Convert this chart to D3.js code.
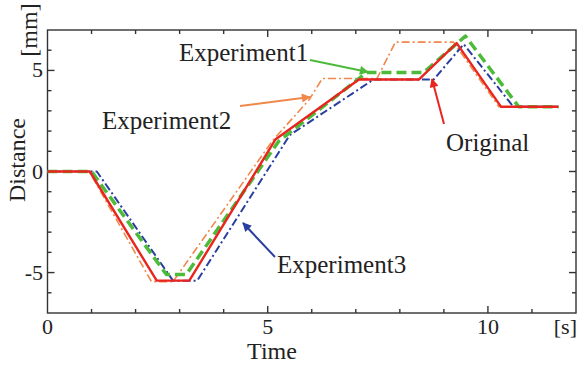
<!DOCTYPE html>
<html>
<head>
<meta charset="utf-8">
<script src="https://cdn.jsdelivr.net/npm/d3@7"></script>
<style>
  body { margin: 0; background: #fff; }
  text { font-family: "Liberation Serif", "Times New Roman", serif; fill: #222; }
</style>
</head>
<body>
<div id="chart"></div>
<script>
// time [s] / distance [mm]
const originalT = [0, 0.96, 2.48, 3.22, 5.18, 7.07, 8.43, 9.29, 10.3, 11.6];
const originalD = [0, 0, -5.4, -5.4, 1.6, 4.55, 4.55, 6.35, 3.2, 3.2];

const exp1T = [0, 1.0, 2.7, 3.15, 5.25, 7.25, 8.54, 9.49, 10.7, 11.6];
const exp1D = [0, 0, -5.1, -5.1, 1.5, 4.9, 4.9, 6.7, 3.2, 3.2];

const exp2T = [0, 0.95, 2.36, 2.85, 5.1, 5.94, 6.24, 7.48, 7.9, 9.22, 10.25, 11.6];
const exp2D = [0, 0, -5.45, -5.45, 1.5, 3.55, 4.6, 4.6, 6.4, 6.4, 3.2, 3.2];

const exp3T = [0, 1.12, 2.85, 3.4, 5.5, 7.4, 8.77, 9.45, 10.58, 11.6];
const exp3D = [0, 0, -5.4, -5.4, 1.8, 4.55, 4.55, 6.3, 3.2, 3.2];

const xTicks = [0, 5, 10];
const yTicks = [-5, 0, 5];

const W = 577, H = 367;
const x = d3.scaleLinear().domain([0, 12]).range([47.5, 576]);
const y = d3.scaleLinear().domain([-7, 7]).range([313, 30]);

const svg = d3.select('#chart').append('svg')
  .attr('width', W)
  .attr('height', H);

const defs = svg.append('defs');
function marker(id, color) {
  defs.append('marker')
    .attr('id', id)
    .attr('viewBox', '0 0 10 10')
    .attr('refX', 9).attr('refY', 5)
    .attr('markerWidth', 11).attr('markerHeight', 9)
    .attr('markerUnits', 'userSpaceOnUse')
    .attr('orient', 'auto')
    .append('path')
      .attr('d', 'M0,0 L10,5 L0,10 Z')
      .attr('fill', color);
}
marker('ah-green', '#4dbb3a');
marker('ah-orange', '#f0884a');
marker('ah-red', '#e8251f');
marker('ah-blue', '#2a3ea0');

// frame with inward ticks on all four sides
const x0 = x.range()[0], x1 = x.range()[1];
const y0 = y.range()[1], y1 = y.range()[0];
const frame = svg.append('g').attr('stroke', '#333').attr('stroke-width', 1.4);
frame.append('rect')
  .attr('x', x0).attr('y', y0)
  .attr('width', x1 - x0).attr('height', y1 - y0)
  .attr('fill', 'none');

d3.range(1, 12).forEach(t => {
  const len = t % 5 === 0 ? 7 : 4;
  frame.append('line').attr('x1', x(t)).attr('x2', x(t)).attr('y1', y1).attr('y2', y1 - len);
  frame.append('line').attr('x1', x(t)).attr('x2', x(t)).attr('y1', y0).attr('y2', y0 + len);
});
d3.range(-6, 7).forEach(v => {
  const len = v % 5 === 0 ? 7 : 4;
  frame.append('line').attr('x1', x0).attr('x2', x0 + len).attr('y1', y(v)).attr('y2', y(v));
  frame.append('line').attr('x1', x1).attr('x2', x1 - len).attr('y1', y(v)).attr('y2', y(v));
});

svg.selectAll('.xlab').data(xTicks).enter().append('text')
  .attr('x', d => x(d)).attr('y', 334)
  .attr('text-anchor', 'middle')
  .style('font-size', '22px')
  .text(d => d);
svg.append('text')
  .attr('x', 577).attr('y', 334)
  .attr('text-anchor', 'end')
  .style('font-size', '22px')
  .text('[s]');

svg.selectAll('.ylab').data(yTicks).enter().append('text')
  .attr('x', 43).attr('y', d => y(d) + 7)
  .attr('text-anchor', 'end')
  .style('font-size', '22px')
  .text(d => d);

svg.append('text')
  .attr('x', 272).attr('y', 359)
  .attr('text-anchor', 'middle')
  .style('font-size', '24px')
  .text('Time');
svg.append('text')
  .attr('transform', 'translate(25,160) rotate(-90)')
  .attr('text-anchor', 'middle')
  .style('font-size', '24px')
  .text('Distance');
svg.append('text')
  .attr('transform', 'translate(37,30) rotate(-90)')
  .attr('text-anchor', 'middle')
  .style('font-size', '24px')
  .text('[mm]');

// series
const line = d3.line()
  .x(d => x(d[0]))
  .y(d => y(d[1]));
const zip = (ts, ds) => ts.map((t, i) => [t, ds[i]]);
const series = [
  { pts: zip(exp2T, exp2D), color: '#f0884a', width: 1.6, dash: '8,3,2,3' },
  { pts: zip(exp3T, exp3D), color: '#2a3ea0', width: 2, dash: '8,3,2,3' },
  { pts: zip(exp1T, exp1D), color: '#4dbb3a', width: 3.5, dash: '10,5' },
  { pts: zip(originalT, originalD), color: '#e8251f', width: 2.4, dash: null }
];
series.forEach(s => {
  svg.append('path')
    .datum(s.pts)
    .attr('d', line)
    .attr('fill', 'none')
    .attr('stroke', s.color)
    .attr('stroke-width', s.width)
    .attr('stroke-dasharray', s.dash)
    .attr('stroke-linejoin', 'round');
});

// annotations
const notes = [
  { label: 'Experiment1', tx: 179, ty: 61, from: [310, 60], to: [368, 72], color: '#4dbb3a', id: 'ah-green' },
  { label: 'Experiment2', tx: 102, ty: 129, from: [240, 106], to: [310, 97], color: '#f0884a', id: 'ah-orange' },
  { label: 'Original', tx: 446, ty: 151, from: [444, 124], to: [432, 79], color: '#e8251f', id: 'ah-red' },
  { label: 'Experiment3', tx: 277, ty: 273, from: [275, 257], to: [243, 223], color: '#2a3ea0', id: 'ah-blue' }
];
notes.forEach(n => {
  svg.append('text')
    .attr('x', n.tx).attr('y', n.ty)
    .style('font-size', '25px')
    .text(n.label);
  svg.append('line')
    .attr('x1', n.from[0]).attr('y1', n.from[1])
    .attr('x2', n.to[0]).attr('y2', n.to[1])
    .attr('stroke', n.color)
    .attr('stroke-width', 2)
    .attr('marker-end', `url(#${n.id})`);
});
</script>
</body>
</html>
